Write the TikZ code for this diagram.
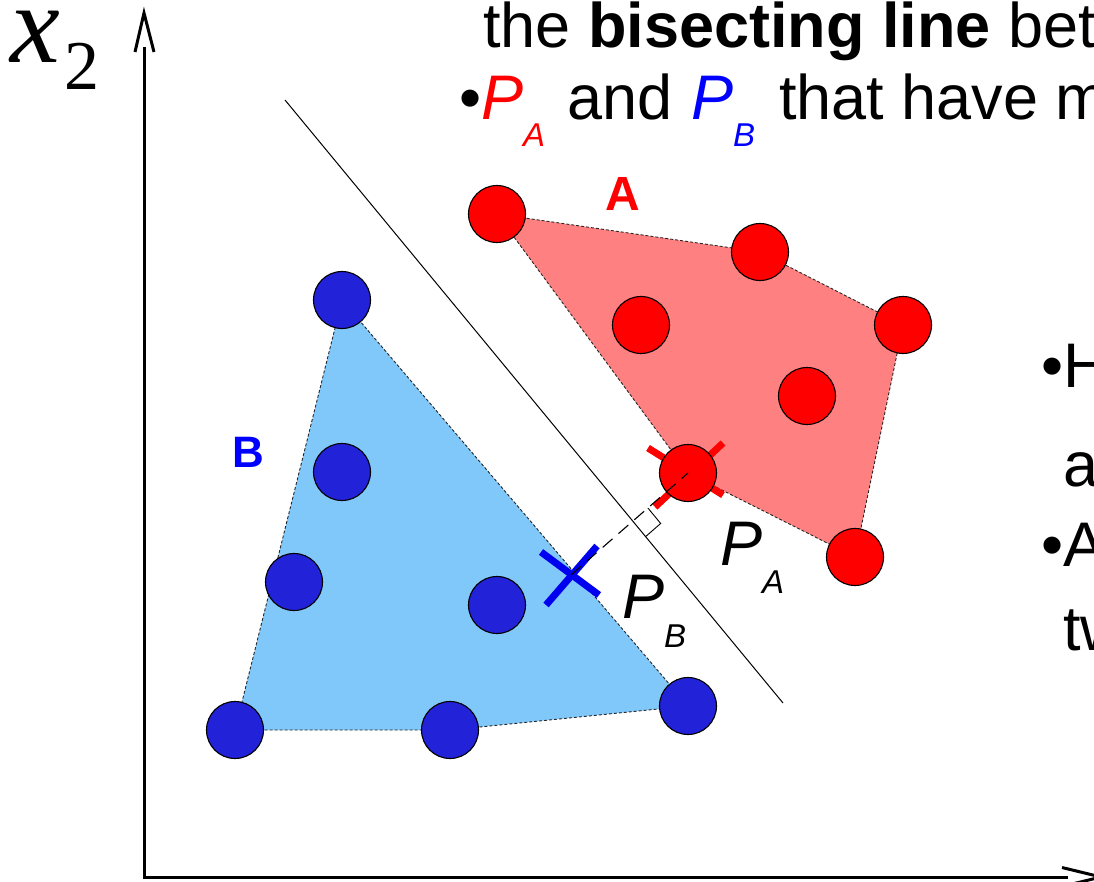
\documentclass[tikz,border=0pt]{standalone}
\usepackage{fontspec}
\setmainfont{Liberation Sans}
\newfontfamily\serifx{Liberation Serif}
\usetikzlibrary{calc,backgrounds}

\definecolor{ptred}{RGB}{255,0,0}
\definecolor{hullred}{RGB}{255,128,128}
\definecolor{ptblue}{RGB}{34,34,216}
\definecolor{hullblue}{RGB}{128,200,250}
\definecolor{xblue}{RGB}{0,0,240}
\definecolor{txtblue}{RGB}{0,0,255}

\begin{document}
\begin{tikzpicture}[x=1pt,y=-1pt,
  rpt/.style={circle,draw=black,line width=1.1pt,fill=ptred,minimum size=57pt,inner sep=0pt},
  bpt/.style={circle,draw=black,line width=1.1pt,fill=ptblue,minimum size=57pt,inner sep=0pt},
  hull/.style={draw=black!85,line width=0.9pt,dash pattern=on 3pt off 2pt},
  txt/.style={anchor=base west,inner sep=0pt,font=\fontsize{63}{70}\selectfont},
  lbl/.style={anchor=base west,inner sep=0pt,font=\fontsize{63}{70}\selectfont\itshape},
  xr/.style={draw=ptred,line width=7pt},
  xb/.style={draw=xblue,line width=7pt},
  axis/.style={line width=3pt,line join=miter},
]
\useasboundingbox (0,0) rectangle (1094,882);
\clip (0,0) rectangle (1094,882);

% axes
\coordinate (O) at (144,877);
\coordinate (Ystem) at (144,47);
\coordinate (Ytip) at (144,13);
\coordinate (Xstem) at (1068,877);
\coordinate (Xtip) at (1101,877);
\draw[axis] (Ystem) -- (O) -- (Xstem);
\draw[axis] ($(Ytip)+(-9,39)$) -- (Ytip) -- ($(Ytip)+(10,39)$);
\draw[axis] ($(Xtip)+(-39,-9.5)$) -- (Xtip) -- ($(Xtip)+(-39,9.5)$);

\node[anchor=base west,inner sep=0pt] (x2) at (10,63)
  {\serifx\itshape\fontsize{112}{112}\selectfont x\upshape\hspace{5pt}\raisebox{-27pt}{\fontsize{70}{70}\selectfont 2}};

% bisecting line
\coordinate (L1) at (285,100);
\coordinate (L2) at (783,703);
\draw[line width=1pt] (L1) -- (L2);

% points of A
\node[rpt] (a1) at (497,214) {};
\node[rpt] (a2) at (760,252) {};
\node[rpt] (a3) at (641,325) {};
\node[rpt] (a4) at (903,325) {};
\node[rpt] (a5) at (807,396) {};
\node[rpt] (a6) at (688,473) {};
\node[rpt] (a7) at (855,557) {};

% points of B
\node[bpt] (b1) at (342,300) {};
\node[bpt] (b2) at (342,472) {};
\node[bpt] (b3) at (294,582) {};
\node[bpt] (b4) at (497,605) {};
\node[bpt] (b5) at (235,730) {};
\node[bpt] (b6) at (450,730) {};
\node[bpt] (b7) at (688,706) {};

\coordinate (bx) at (571,575);

\begin{scope}[on background layer]
  \path[fill=hullred,hull] (a1.center) -- (a2.center) -- (a4.center) -- (a7.center) -- (a6.center) -- cycle;
  \path[fill=hullblue,hull] (b1.center) -- (b7.center) -- (b6.center) -- (b5.center) -- cycle;
  \draw[xr] ($(a6)+(-40,-25)$) -- ($(a6)+(35,22)$);
  \draw[xr] ($(a6)+(35,-30)$) -- ($(a6)+(-33,34)$);
  \draw[xb] ($(bx)+(-30,-23)$) -- ($(bx)+(28,20)$);
  \draw[xb] ($(bx)+(26,-29)$) -- ($(bx)+(-25,30)$);
\end{scope}

% perpendicular
\draw[line width=1.1pt,dash pattern=on 13pt off 8pt] (bx) -- (a6.center);
\coordinate (I) at (intersection of bx--a6 and L1--L2);
\coordinate (s1) at ($(I)!20pt!(a6)$);
\coordinate (s3) at ($(I)!20pt!(L2)$);
\coordinate (s2) at ($(s1)+(s3)-(I)$);
\draw[line width=0.9pt] (s1) -- (s2) -- (s3);

% set labels
\node[anchor=base west,inner sep=0pt,text=ptred,font=\fontsize{48}{48}\selectfont\bfseries] (labA) at (605,211) {A};
\node[anchor=base west,inner sep=0pt,text=txtblue,font=\fontsize{44}{44}\selectfont\bfseries] (labB) at (232,467) {B};

\node[lbl] (lPA) at (720,565) {P\raisebox{-28pt}{\fontsize{33}{33}\selectfont A}};
\node[lbl] (lPB) at (622,618) {P\raisebox{-29pt}{\fontsize{33}{33}\selectfont B}};

% top text
\node[txt] (t1) at (483,48) {the \textbf{bisecting line} bet};
\node[txt] (bul1) at (459,120) {•};
\node[txt,text=ptred] (tPA) at (481,120) {\itshape P\raisebox{-27pt}{\fontsize{33}{33}\selectfont A}};
\node[txt] (tand) at (567,120) {and};
\node[txt,text=txtblue] (tPB) at (691,120) {\itshape P\raisebox{-27pt}{\fontsize{33}{33}\selectfont B}};
\node[txt] (tthat) at (779,120) {that have m};

% right text
\node[txt] (r1) at (1041,387) {•H};
\node[txt] (r2) at (1063,486) {a};
\node[txt] (r3) at (1041,566) {•A};
\node[txt] (r4) at (1063,650) {tw};
\end{tikzpicture}
\end{document}
